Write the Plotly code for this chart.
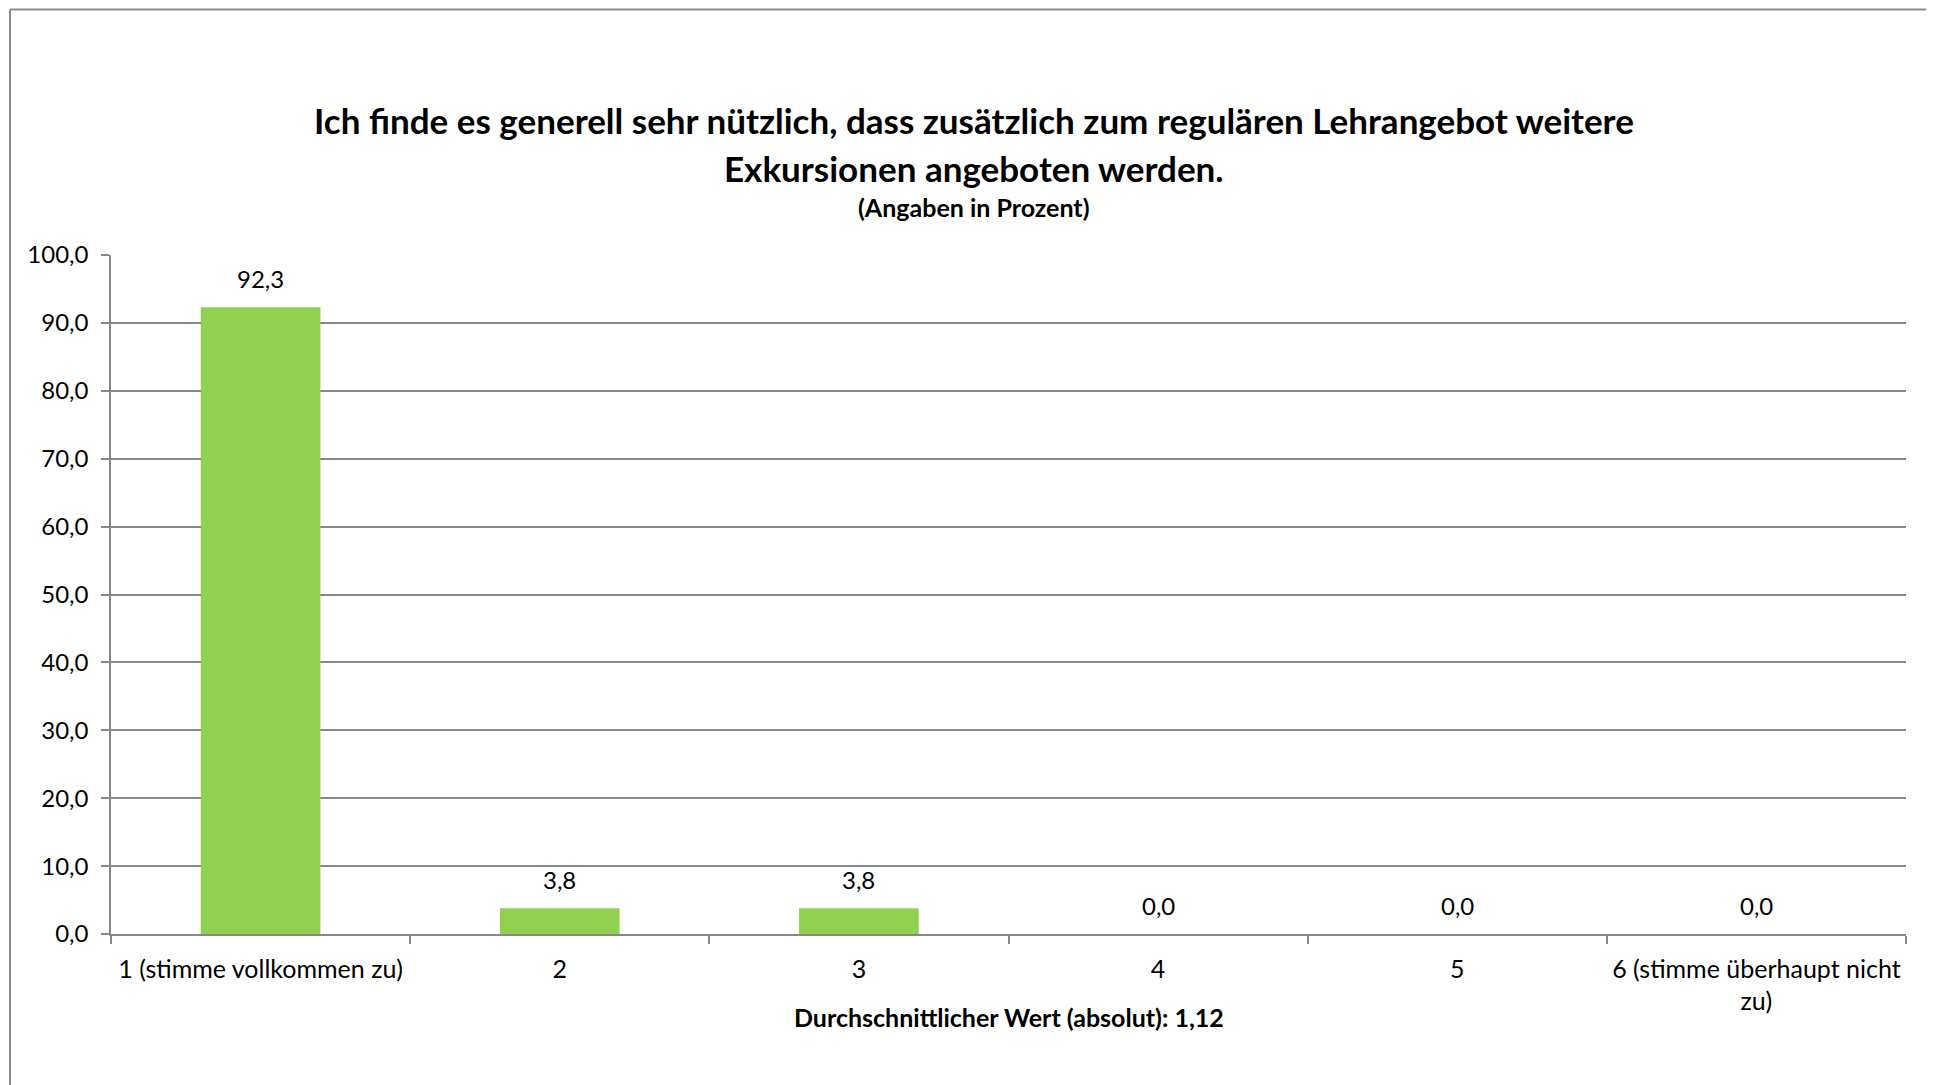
import plotly.graph_objects as go

categories = ["1 (stimme vollkommen zu)", "2", "3", "4", "5", "6 (stimme überhaupt nicht<br>zu)"]
values = [92.3, 3.8, 3.8, 0.0, 0.0, 0.0]
title_line1 = "Ich finde es generell sehr nützlich, dass zusätzlich zum regulären Lehrangebot weitere"
title_line2 = "Exkursionen angeboten werden."
subtitle = "(Angaben in Prozent)"
x_title = "Durchschnittlicher Wert (absolut): 1,12"

W, H = 1934, 1085
OFF = 8  # page body margin
L, T = 111 - OFF, 255 - OFF
pw, ph = 1795, 679
R, B = W - L - pw, H - T - ph

def px(x):
    return (x - OFF - L) / pw

def py(y):
    return (T + ph - (y - OFF)) / ph

FONT = "Lato"
GRID = "#878787"

fig = go.Figure(go.Bar(
    x=categories, y=values,
    marker=dict(color="#92D050", line=dict(width=0)),
    hoverinfo="x+y",
))

# data labels above bars, positioned by data values (category index on x)
for i, v in enumerate(values):
    fig.add_annotation(
        x=i, y=v, xref="x", yref="y", text=f"{v:.1f}".replace(".", ","),
        showarrow=False, yanchor="bottom", yshift=12,
        font=dict(family=FONT, size=24, color="#000000"),
    )

fig.update_layout(
    width=W, height=H,
    margin=dict(l=L, r=R, t=T, b=B),
    paper_bgcolor="white", plot_bgcolor="white",
    separators=",.",
    showlegend=False,
    bargap=0.6,
    font=dict(family=FONT, size=24, color="#000000"),
)

fig.update_yaxes(
    range=[0, 100], dtick=10, tickformat=".1f",
    showgrid=True, gridcolor=GRID, gridwidth=1.5,
    showline=True, linecolor=GRID, linewidth=1.5,
    ticks="outside", ticklen=8, tickcolor=GRID, tickwidth=1.5,
    ticklabelstandoff=8,
    tickfont=dict(family=FONT, size=24, color="#000000"),
    zeroline=False, fixedrange=True,
)
fig.update_xaxes(
    showline=True, linecolor=GRID, linewidth=1.5,
    ticks="outside", tickson="boundaries", ticklen=8, tickcolor=GRID, tickwidth=1.5,
    ticklabelstandoff=12,
    tickfont=dict(family=FONT, size=25, color="#000000"),
    showgrid=False,
)

TX = 974
anns = [
    dict(text="<b>" + title_line1 + "</b>", x=px(TX), y=py(120), size=35),
    dict(text="<b>" + title_line2 + "</b>", x=px(TX), y=py(168), size=35),
    dict(text="<b>" + subtitle + "</b>", x=px(TX), y=py(207), size=25),
    dict(text="<b>" + x_title + "</b>", x=0.5, y=py(1017), size=25),
]
for a in anns:
    fig.add_annotation(
        text=a["text"], x=a["x"], y=a["y"], xref="paper", yref="paper",
        xanchor="center", yanchor="middle", showarrow=False,
        font=dict(family=FONT, size=a["size"], color="#000000"),
    )

# outer chart frame (left and top edges visible)
fig.add_shape(type="line", xref="paper", yref="paper",
              x0=px(10), y0=py(9.5), x1=px(10), y1=py(1100),
              line=dict(color="#8C8C8C", width=2))
fig.add_shape(type="line", xref="paper", yref="paper",
              x0=px(10), y0=py(9.5), x1=px(1950), y1=py(9.5),
              line=dict(color="#8C8C8C", width=2))

fig.write_html("out.html")
